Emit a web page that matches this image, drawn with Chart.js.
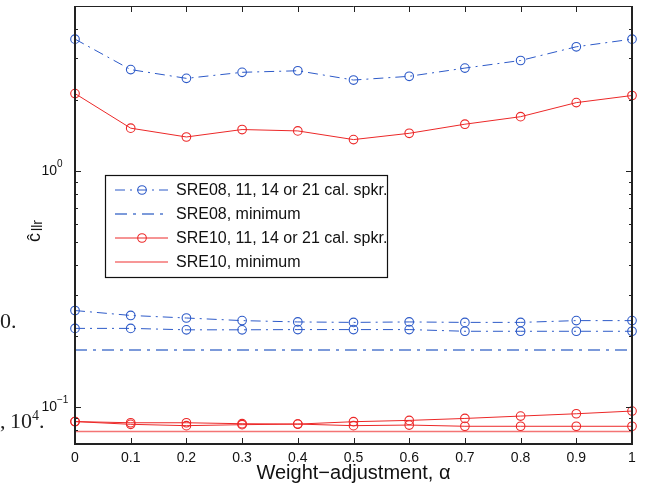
<!DOCTYPE html>
<html>
<head>
<meta charset="utf-8">
<script src="https://cdn.jsdelivr.net/npm/chart.js@4/dist/chart.umd.min.js"></script>
<style>
  body { margin: 0; background: #fff; }
  #wrap { position: relative; width: 646px; height: 492px; }
  .stray { position: absolute; left: 0; font-family: "Liberation Serif", serif; font-size: 22px; color: #222; }
</style>
</head>
<body>
<div id="wrap">
  <canvas id="chart"></canvas>
  <div class="stray" style="top:308px">0.</div>
  <div class="stray" style="top:408px">,&#8201;10<sup style="font-size:14px">4</sup>.</div>
</div>
<script>
// weight-adjustment alpha values
const alphas = [0, 0.1, 0.2, 0.3, 0.4, 0.5, 0.6, 0.7, 0.8, 0.9, 1];
const xTickLabels = ['0', '0.1', '0.2', '0.3', '0.4', '0.5', '0.6', '0.7', '0.8', '0.9', '1'];

// SRE08 curves (11, 14, 21 calibration speakers) and the minimum
const sre08CurveA = [3.62, 2.69, 2.47, 2.62, 2.66, 2.43, 2.52, 2.73, 2.94, 3.36, 3.62];
const sre08CurveB = [0.257, 0.245, 0.239, 0.233, 0.230, 0.229, 0.230, 0.229, 0.229, 0.233, 0.233];
const sre08CurveC = [0.216, 0.216, 0.213, 0.213, 0.2135, 0.2135, 0.2135, 0.210, 0.210, 0.210, 0.210];
const sre08Min = 0.175;

// SRE10 curves and the minimum
const sre10CurveA = [2.13, 1.52, 1.395, 1.50, 1.48, 1.36, 1.446, 1.58, 1.70, 1.95, 2.09];
const sre10CurveB = [0.0871, 0.0861, 0.0861, 0.0853, 0.0850, 0.0870, 0.0881, 0.0898, 0.0919, 0.0940, 0.0965];
const sre10CurveC = [0.0871, 0.0848, 0.0837, 0.0845, 0.0850, 0.0837, 0.0842, 0.0832, 0.0832, 0.0832, 0.0832];
const sre10Min = 0.0791;

const yMajor = [0.1, 1];
const yMajorExp = ['\u22121', '0'];
const yMinor = [0.08, 0.09, 0.2, 0.3, 0.4, 0.5, 0.6, 0.7, 0.8, 0.9, 2, 3, 4];

const legendLabels = [
  'SRE08, 11, 14 or 21 cal. spkr.',
  'SRE08, minimum',
  'SRE10, 11, 14 or 21 cal. spkr.',
  'SRE10, minimum'
];

const BLUE = 'rgb(45,90,200)';
const BLUE_MIN = 'rgba(80,120,205,0.75)';
const RED = 'rgb(236,40,40)';
const RED_MIN = 'rgba(240,70,70,0.75)';
const DASHDOT = [10, 5, 2, 5];
const DASHDOT_MIN = [12, 6, 3, 6];

const pts = arr => arr.map((v, i) => ({ x: alphas[i], y: v }));
const flat = v => alphas.map(a => ({ x: a, y: v }));

function curve(arr, color, dash) {
  return {
    data: pts(arr), borderColor: color, borderWidth: 1, borderDash: dash,
    pointRadius: 4.3, pointBorderColor: color, pointBackgroundColor: 'rgba(0,0,0,0)',
    pointBorderWidth: 1.1, clip: false, tension: 0
  };
}
function minLine(v, color, width, dash) {
  return { data: flat(v), borderColor: color, borderWidth: width, borderDash: dash, pointRadius: 0, clip: false };
}

const datasets = [
  curve(sre08CurveA, BLUE, DASHDOT),
  curve(sre08CurveB, BLUE, DASHDOT),
  curve(sre08CurveC, BLUE, DASHDOT),
  minLine(sre08Min, BLUE_MIN, 2.2, DASHDOT_MIN),
  curve(sre10CurveA, RED, []),
  curve(sre10CurveB, RED, []),
  curve(sre10CurveC, RED, []),
  minLine(sre10Min, RED_MIN, 1.6, [])
];
const legendStyles = [datasets[0], datasets[3], datasets[4], datasets[7]];

const axesPlugin = {
  id: 'matlabAxes',
  afterDraw(chart) {
    const c = chart.ctx, a = chart.chartArea;
    const xs = chart.scales.x, ys = chart.scales.y;
    c.save();
    c.strokeStyle = '#222';
    // frame
    c.lineWidth = 1;
    c.beginPath(); c.moveTo(a.left, a.top + 0.5); c.lineTo(a.right, a.top + 0.5); c.stroke();
    c.lineWidth = 2;
    c.beginPath();
    c.moveTo(a.left, a.top); c.lineTo(a.left, a.bottom); c.lineTo(a.right, a.bottom); c.lineTo(a.right, a.top);
    c.stroke();
    // ticks
    c.lineWidth = 1;
    c.beginPath();
    alphas.forEach(v => {
      const x = Math.round(xs.getPixelForValue(v)) + 0.5;
      c.moveTo(x, a.bottom); c.lineTo(x, a.bottom - 6);
      c.moveTo(x, a.top); c.lineTo(x, a.top + 6);
    });
    yMajor.forEach(v => {
      const y = Math.round(ys.getPixelForValue(v)) + 0.5;
      c.moveTo(a.left, y); c.lineTo(a.left + 6, y);
      c.moveTo(a.right, y); c.lineTo(a.right - 6, y);
    });
    yMinor.forEach(v => {
      const y = Math.round(ys.getPixelForValue(v)) + 0.5;
      c.moveTo(a.left, y); c.lineTo(a.left + 3, y);
      c.moveTo(a.right, y); c.lineTo(a.right - 3, y);
    });
    c.stroke();

    // x tick labels
    c.fillStyle = '#111';
    c.font = '14px "Liberation Sans", Arial, sans-serif';
    c.textAlign = 'center'; c.textBaseline = 'middle';
    alphas.forEach((v, i) => c.fillText(xTickLabels[i], xs.getPixelForValue(v), a.bottom + 14));
    // x title
    c.font = '20px "Liberation Sans", Arial, sans-serif';
    c.fillText('Weight\u2212adjustment, \u03b1', (a.left + a.right) / 2, a.bottom + 29);

    // y tick labels 10^e
    yMajor.forEach((v, i) => {
      const y = ys.getPixelForValue(v);
      c.font = '14px "Liberation Sans", Arial, sans-serif';
      c.textAlign = 'right'; c.textBaseline = 'middle';
      c.fillText('10', a.left - 18, y);
      c.font = '10px "Liberation Sans", Arial, sans-serif';
      c.textAlign = 'left';
      c.fillText(yMajorExp[i], a.left - 18, y - 7);
    });

    // y title
    c.save();
    c.translate(a.left - 41, (a.top + a.bottom) / 2 + 6);
    c.rotate(-Math.PI / 2);
    c.textAlign = 'left'; c.textBaseline = 'alphabetic';
    c.font = '18px "Liberation Sans", Arial, sans-serif';
    const w = c.measureText('\u0109').width;
    c.font = '14px "Liberation Sans", Arial, sans-serif';
    const w2 = c.measureText('llr').width;
    const x0 = -(w + w2 + 2) / 2;
    c.font = '18px "Liberation Sans", Arial, sans-serif';
    c.fillText('\u0109', x0, 6);
    c.font = '14px "Liberation Sans", Arial, sans-serif';
    c.fillText('llr', x0 + w + 2, 8);
    c.restore();

    // legend box
    const lx = 105, ly = 175, lw = 282, lh = 102;
    c.fillStyle = '#fff';
    c.fillRect(lx, ly, lw, lh);
    c.font = '16px "Liberation Sans", Arial, sans-serif';
    c.textAlign = 'left'; c.textBaseline = 'middle';
    const rows = [190, 214, 238, 262];
    legendLabels.forEach((lab, i) => {
      const ds = legendStyles[i], y = ly + (rows[i] - 175);
      c.save();
      c.strokeStyle = ds.borderColor; c.lineWidth = ds.borderWidth;
      c.setLineDash(ds.borderDash);
      c.beginPath(); c.moveTo(lx + 10, y); c.lineTo(lx + 63, y); c.stroke();
      c.setLineDash([]);
      if (ds.pointRadius) {
        c.lineWidth = ds.pointBorderWidth;
        c.beginPath(); c.arc(lx + 37, y, ds.pointRadius, 0, Math.PI * 2); c.stroke();
      }
      c.restore();
      c.fillStyle = '#111';
      c.fillText(lab, lx + 71, y + 1);
    });
    c.strokeStyle = '#111'; c.lineWidth = 1.2;
    c.strokeRect(lx + 0.5, ly + 0.5, lw, lh);
    c.restore();
  }
};

new Chart(document.getElementById('chart'), {
  type: 'line',
  data: { datasets },
  options: {
    responsive: true, maintainAspectRatio: false, animation: false,
    layout: { padding: { left: 75, right: 14, top: 6, bottom: 48 } },
    plugins: { legend: { display: false }, tooltip: { enabled: false } },
    scales: {
      x: { type: 'linear', min: 0, max: 1, display: false },
      y: { type: 'logarithmic', min: 0.07, max: 5, display: false }
    }
  },
  plugins: [axesPlugin]
});
</script>
</body>
</html>
